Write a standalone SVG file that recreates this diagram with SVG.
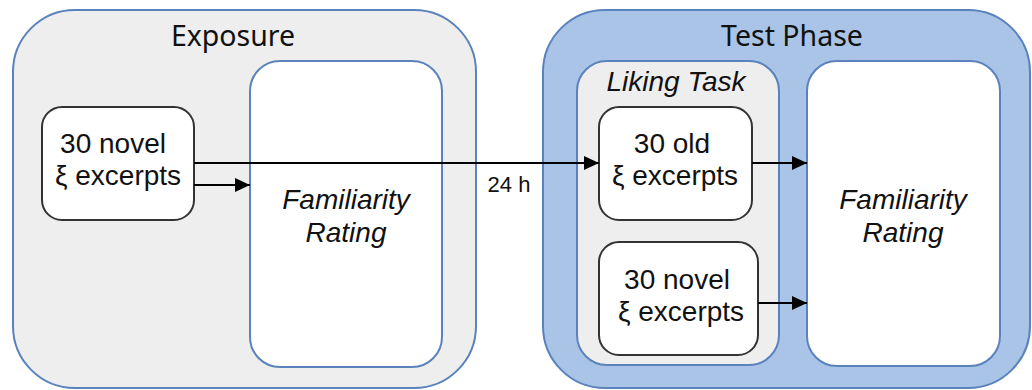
<svg xmlns="http://www.w3.org/2000/svg" width="1032" height="390" viewBox="0 0 1032 390">
<defs>
<marker id="ah" markerWidth="15" markerHeight="14" refX="15" refY="7" orient="auto" markerUnits="userSpaceOnUse">
<path d="M0,0 L15,7 L0,14 Z" fill="#000"/>
</marker>
<style>
.phase{stroke:#5a82bd;stroke-width:2}
.inner{fill:#fff;stroke:#5a82bd;stroke-width:2}
.stim{fill:#fff;stroke:#333;stroke-width:2}
.title{font-family:"Noto Sans","Open Sans",sans-serif;font-size:28.5px;fill:#111;text-anchor:middle}
.lbl{font-family:"Liberation Sans",Arial,sans-serif;font-size:28px;fill:#111;text-anchor:middle}
.it{font-family:"Liberation Sans",Arial,sans-serif;font-size:28px;font-style:italic;fill:#111;text-anchor:middle}
.con{stroke:#000;stroke-width:2.2;fill:none}
</style>
</defs>
<g id="exposure">
<rect class="phase" x="13" y="10" width="463" height="378" rx="62" fill="#eeeeee"/>
<text class="title" x="233" y="46">Exposure</text>
</g>
<g id="test-phase">
<rect class="phase" x="543" y="10" width="487" height="378" rx="62" fill="#a9c4e6"/>
<text class="title" x="792" y="46">Test Phase</text>
</g>
<g id="familiarity-1">
<rect class="inner" x="250" y="61" width="192" height="306" rx="30"/>
<text class="it" x="346" y="209">Familiarity</text>
<text class="it" x="346" y="242">Rating</text>
</g>
<g id="liking-task">
<rect class="phase" x="577" y="61" width="202" height="304" rx="30" fill="#eeeeee"/>
<text class="it" x="676" y="91">Liking Task</text>
</g>
<g id="familiarity-2">
<rect class="inner" x="807" y="61" width="193" height="305" rx="30"/>
<text class="it" x="903" y="209">Familiarity</text>
<text class="it" x="903" y="242">Rating</text>
</g>
<g id="novel-exposure">
<rect class="stim" x="42" y="107" width="152" height="113" rx="20"/>
<text class="lbl" x="113" y="153">30 novel</text>
<text class="lbl" x="118" y="185">ξ excerpts</text>
</g>
<g id="old-test">
<rect class="stim" x="599" y="107" width="153" height="113" rx="20"/>
<text class="lbl" x="672" y="153">30 old</text>
<text class="lbl" x="675" y="185">ξ excerpts</text>
</g>
<g id="novel-test">
<rect class="stim" x="599" y="242" width="159" height="113" rx="20"/>
<text class="lbl" x="677" y="289">30 novel</text>
<text class="lbl" x="681" y="321">ξ excerpts</text>
</g>
<g id="connectors">
<line class="con" x1="194" y1="185" x2="250" y2="185" marker-end="url(#ah)"/>
<line class="con" x1="194" y1="163" x2="599" y2="163" marker-end="url(#ah)"/>
<line class="con" x1="752" y1="163" x2="807" y2="163" marker-end="url(#ah)"/>
<line class="con" x1="758" y1="303" x2="807" y2="303" marker-end="url(#ah)"/>
<text x="509" y="192" style="font-family:'Liberation Sans',Arial,sans-serif;font-size:22px;fill:#111;text-anchor:middle">24 h</text>
</g>
</svg>
